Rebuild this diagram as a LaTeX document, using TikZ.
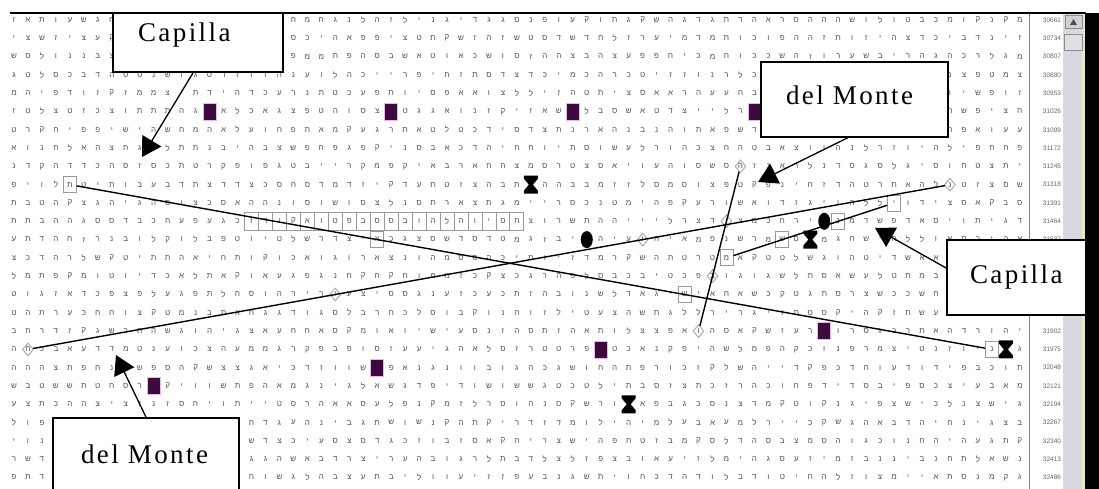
\documentclass[tikz,border=0pt]{standalone}
\usepackage{fontspec}
\setmainfont{Liberation Serif}
\newfontfamily\hebfont{Liberation Sans}
\newfontfamily\lblfont[LetterSpace=9]{Liberation Serif}
\usetikzlibrary{arrows.meta,shapes.geometric,calc}
\definecolor{plum}{HTML}{3C0A3C}
\definecolor{plumedge}{HTML}{E8B8E8}
\definecolor{sbar}{HTML}{D8D8E0}
\definecolor{sbedge}{HTML}{E4EAC4}
\newcommand\hebl[1]{\ifcase#1 א\or ב\or ג\or ד\or ה\or ו\or ז\or ח\or ט\or י\or כ\or ל\or מ\or נ\or ס\or ע\or פ\or צ\or ק\or ר\or ש\or ת\or ו\or י\or ה\fi}
\tikzset{
  gl/.style={font=\hebfont\fontsize{8}{8}\selectfont, text=black!68, inner sep=0pt},
  num/.style={font=\hebfont\fontsize{6.5}{6.5}\selectfont, text=black!60, inner sep=0pt},
  sq/.style={draw=black!40, line width=0.9pt, minimum width=13pt, minimum height=16pt, inner sep=0pt},
  cell/.style={sq, minimum width=13.97pt, minimum height=18pt},
  dm/.style={diamond, draw=black!35, line width=0.9pt, minimum width=11pt, minimum height=13pt, inner sep=0pt},
  pm/.style={draw=plumedge, line width=0.8pt, fill=plum, minimum width=13pt, minimum height=17pt, inner sep=0pt},
  ov/.style={ellipse, fill=black, minimum width=12pt, minimum height=17pt, inner sep=0pt},
  hg/.style={inner sep=0pt, minimum width=14pt, minimum height=18pt,
    path picture={\fill (path picture bounding box.north west) -- (path picture bounding box.north east)
      -- ([yshift=-3pt]path picture bounding box.north east) -- ([xshift=-5pt]path picture bounding box.east)
      -- ([yshift=3pt]path picture bounding box.south east) -- (path picture bounding box.south east)
      -- (path picture bounding box.south west) -- ([yshift=3pt]path picture bounding box.south west)
      -- ([xshift=5pt]path picture bounding box.west) -- ([yshift=-3pt]path picture bounding box.north west) -- cycle;}},
  dl/.style={line width=1.4pt, black},
  arr/.style={line width=1.3pt, -{Triangle[length=19pt,width=22pt]}},
  lbl/.style={draw, line width=1.8pt, fill=white, font=\lblfont\fontsize{27}{27}\selectfont,
    text height=18pt, inner xsep=25pt, inner ysep=2pt, align=left}
}
\begin{document}
\begin{tikzpicture}[x=1pt,y=-1pt]
\useasboundingbox (0,0) rectangle (1099,489);
\clip (0,0) rectangle (1099,489);
\fill[white] (0,0) rectangle (1099,489);
\pgfmathsetseed{4711}
\begin{scope}[shift={(14,20)}, x=13.97pt, y=-18.3pt]
  % letter grid
  \foreach \r in {0,...,25}{
    \foreach \c in {0,...,72}{
      \pgfmathrandominteger{\k}{0}{24}
      \node[gl] (g-\c-\r) at (\c,\r) {\hebl{\k}};
    }
  }
  % row of cells
  \foreach \c in {17,...,36}{
    \node[cell] (b\c) at (\c,11) {};
  }
  % Capilla, long
  \node[sq] (a1) at (4,9) {};
  \node[sq] (a2) at (26,12) {};
  \node[sq] (a3) at (48,15) {};
  \node[sq] (a4) at (70,18) {};
  % del Monte, long
  \node[dm] (m1) at (1,18) {};
  \node[dm] (m2) at (23,15) {};
  \node[dm] (m3) at (45,12) {};
  \node[dm] (m4) at (67,9) {};
  % del Monte, short
  \node[dm] (d1) at (52,8) {};
  \node[dm] (d2) at (51,11) {};
  \node[dm] (d3) at (50,14) {};
  \node[dm] (d4) at (49,17) {};
  % Capilla, short
  \node[sq] (c1) at (51,13) {};
  \node[sq] (c2) at (55,12) {};
  \node[sq] (c3) at (59,11) {};
  \node[sq] (c4) at (63,10) {};
  % purple squares
  \node[pm] (p1) at (14,5) {};
  \node[pm] (p2) at (27,5) {};
  \node[pm] (p3) at (40,5) {};
  \node[pm] (p4) at (53,5) {};
  \node[pm] (p5) at (58,17) {};
  \node[pm] (p6) at (42,18) {};
  \node[pm] (p7) at (26,19) {};
  \node[pm] (p8) at (10,20) {};
  % hourglasses
  \node[hg] (h1) at (37,9) {};
  \node[hg] (h2) at (57,12) {};
  \node[hg] (h3) at (71,18) {};
  \node[hg] (h4) at (44,21) {};
  % ovals
  \node[ov] (o1) at (41,12) {};
  \node[ov] (o2) at (58,11) {};
\end{scope}
% connecting lines
\draw[dl] (a1) -- (a4);
\draw[dl] (m1) -- (m4);
\draw[dl] (d1) -- (d4);
\draw[dl] (c1) -- (c4);
% right column numbers
\foreach \r in {0,...,25}{
  \node[num] (n\r) at (1052,{20+18.3*\r}) {\the\numexpr30661+73*\r\relax};
}
\draw[black!50, line width=1pt] (1029,14) -- (1029,489);
% scrollbar
\fill[sbar] (1063,14) rectangle (1085,489);
\fill[sbedge] (1082,14) rectangle (1085,489);
\filldraw[fill=black!18, draw=black!45, line width=0.6pt] (1065,15) rectangle (1082,28);
\fill[black!70] (1070,25) -- (1077,25) -- (1073.5,19) -- cycle;
\filldraw[fill=black!12, draw=black!45, line width=0.6pt] (1064,34) rectangle (1082,50);
\fill[black] (1085,13) rectangle (1099,489);
\draw[line width=2pt] (10,13) -- (1086,13);
% labels
\node[lbl, minimum height=59pt, text width=120pt, text depth=19pt] (L1) at (198,42.5) {Capilla};
\node[lbl, minimum height=75pt, text width=137pt, text depth=7pt] (L2) at (854.5,99.5) {del Monte};
\node[lbl, inner xsep=23pt, minimum height=75pt, text width=93pt, text depth=7pt] (L3) at (1016.5,277.5) {Capilla};
\node[lbl, inner xsep=28pt, minimum height=76pt, text width=130pt, text depth=4pt] (L4) at (146,456) {del Monte};
% arrow tips
\coordinate (t1) at (142,157);
\coordinate (t2) at (758,182);
\coordinate (t3) at (875,228);
\coordinate (t4) at (116,355);
\draw[arr] ([xshift=-5pt]L1.south) -- (t1);
\draw[arr] ([xshift=-7pt]L2.south) -- (t2);
\draw[arr] ([yshift=9.5pt]L3.west) -- (t3);
\draw[arr] (L4.north) -- (t4);
\end{tikzpicture}
\end{document}
